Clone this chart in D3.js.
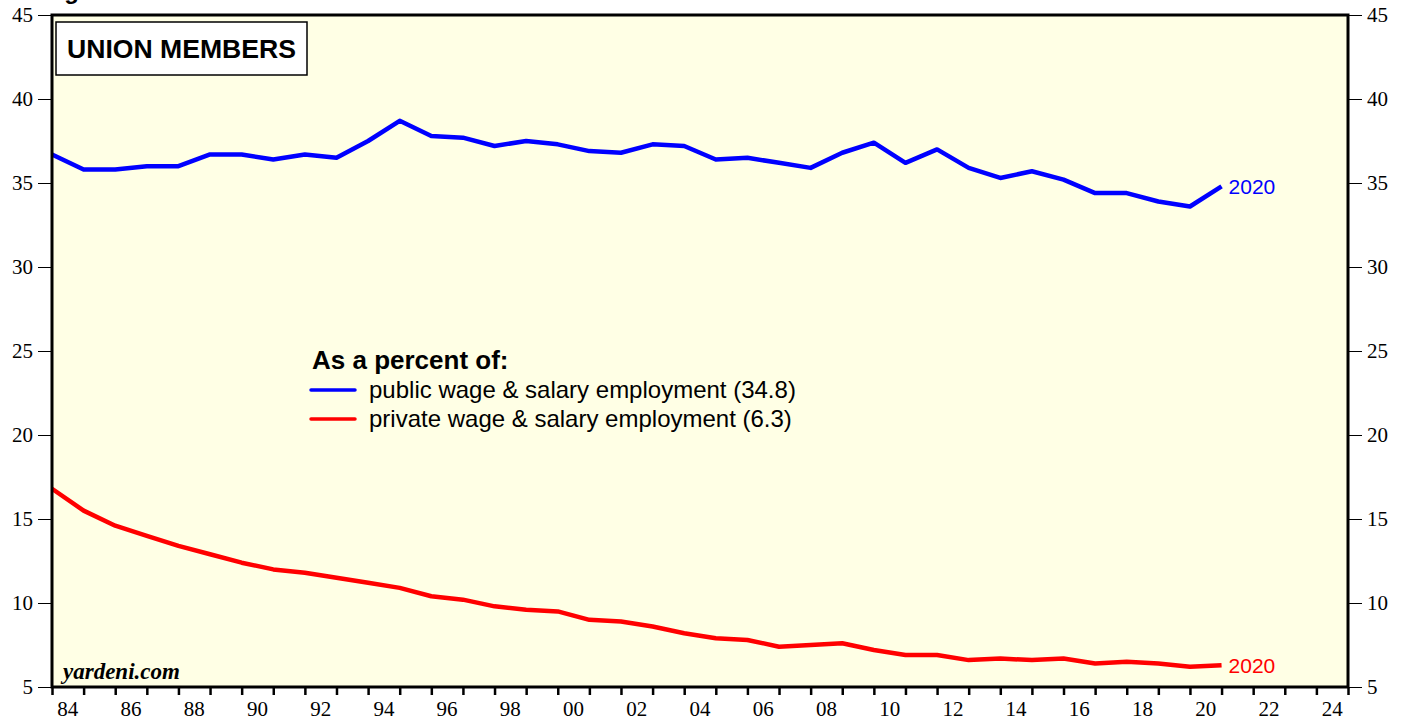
<!DOCTYPE html>
<html>
<head>
    <meta charset="utf-8">
    <title>Union Members</title>
    <script src="https://cdnjs.cloudflare.com/ajax/libs/d3/7.8.5/d3.min.js"></script>
    <style>
        body { margin: 0; background: #fff; }
        svg { display: block; }
        .axis text { font-family: "Liberation Serif", "Times New Roman", serif; font-size: 21px; fill: #000; }
    </style>
</head>
<body>
<script type="text/javascript">
    var width = 1408, height = 721;
    var plotLeft = 52, plotRight = 1348, plotTop = 15, plotBottom = 687;

    // annual data, 1983-2020 (percent)
    var years = d3.range(1983, 2021);
    var publicRate = [36.7, 35.8, 35.8, 36.0, 36.0, 36.7, 36.7, 36.4, 36.7, 36.5,
                      37.5, 38.7, 37.8, 37.7, 37.2, 37.5, 37.3, 36.9, 36.8, 37.3,
                      37.2, 36.4, 36.5, 36.2, 35.9, 36.8, 37.4, 36.2, 37.0, 35.9,
                      35.3, 35.7, 35.2, 34.4, 34.4, 33.9, 33.6, 34.8];
    var privateRate = [16.8, 15.5, 14.6, 14.0, 13.4, 12.9, 12.4, 12.0, 11.8, 11.5,
                       11.2, 10.9, 10.4, 10.2, 9.8, 9.6, 9.5, 9.0, 8.9, 8.6,
                       8.2, 7.9, 7.8, 7.4, 7.5, 7.6, 7.2, 6.9, 6.9, 6.6,
                       6.7, 6.6, 6.7, 6.4, 6.5, 6.4, 6.2, 6.3];
    var yTicks = [5, 10, 15, 20, 25, 30, 35, 40, 45];
    var yearTicks = d3.range(1984, 2026);
    var labelYears = d3.range(1984, 2025, 2);

    var svg = d3.select("body").append("svg")
        .attr("width", width)
        .attr("height", height);

    var x = d3.scaleLinear().domain([1984, 2025]).range([plotLeft, plotRight]);
    var y = d3.scaleLinear().domain([5, 45]).range([plotBottom, plotTop]);

    // cut-off title at the very top
    svg.append("text")
        .attr("x", 43).attr("y", -1)
        .style("font-family", "Liberation Sans, Arial, sans-serif")
        .style("font-weight", "bold").style("font-size", "24px")
        .text("Figure");

    svg.append("rect")
        .attr("x", plotLeft).attr("y", plotTop)
        .attr("width", plotRight - plotLeft).attr("height", plotBottom - plotTop)
        .attr("fill", "#ffffe5");

    // y axes on both sides
    var yLeft = d3.axisLeft(y).tickValues(yTicks).tickSize(14).tickPadding(5);
    var yRight = d3.axisRight(y).tickValues(yTicks).tickSize(14).tickPadding(5);

    svg.append("g").attr("class", "axis")
        .attr("transform", "translate(" + plotLeft + ",0)")
        .call(yLeft)
        .call(function (g) { g.select(".domain").remove(); });
    svg.append("g").attr("class", "axis")
        .attr("transform", "translate(" + plotRight + ",0)")
        .call(yRight)
        .call(function (g) { g.select(".domain").remove(); });

    // x axis: a tick per year, label centred in each even year
    var xAxis = d3.axisBottom(x).tickValues(yearTicks).tickSize(8).tickFormat("");
    svg.append("g").attr("class", "axis")
        .attr("transform", "translate(0," + plotBottom + ")")
        .call(xAxis)
        .call(function (g) {
            g.select(".domain").remove();
            g.selectAll(".tick line").attr("stroke-width", 2.5);
        });

    svg.append("g").attr("class", "axis")
        .selectAll("text")
        .data(labelYears)
        .enter().append("text")
        .attr("x", function (d) { return x(d + 0.5); })
        .attr("y", 716)
        .attr("text-anchor", "middle")
        .text(function (d) { return d3.format("02")(d % 100); });

    // series, each year's value plotted at year end
    var line = d3.line()
        .x(function (d) { return x(d[0] + 1); })
        .y(function (d) { return y(d[1]); });

    var series = [
        { values: publicRate, color: "#0000ff" },
        { values: privateRate, color: "#ff0000" }
    ];

    svg.selectAll("path.series")
        .data(series)
        .enter().append("path")
        .attr("class", "series")
        .attr("fill", "none")
        .attr("stroke", function (d) { return d.color; })
        .attr("stroke-width", 4.5)
        .attr("stroke-linejoin", "round")
        .attr("d", function (d) { return line(d3.zip(years, d.values)); });

    // end labels
    svg.selectAll("text.endlabel")
        .data(series)
        .enter().append("text")
        .attr("class", "endlabel")
        .attr("x", x(years[years.length - 1] + 1) + 7)
        .attr("y", function (d) { return y(d.values[d.values.length - 1]) + 8; })
        .attr("fill", function (d) { return d.color; })
        .style("font-family", "Liberation Sans, Arial, sans-serif")
        .style("font-size", "21px")
        .text(String(years[years.length - 1]));

    // frame
    svg.append("rect")
        .attr("x", plotLeft).attr("y", plotTop)
        .attr("width", plotRight - plotLeft).attr("height", plotBottom - plotTop)
        .attr("fill", "none")
        .attr("stroke", "#000")
        .attr("stroke-width", 3);

    // title box
    svg.append("rect")
        .attr("x", 56).attr("y", 22)
        .attr("width", 251).attr("height", 53)
        .attr("fill", "#fff")
        .attr("stroke", "#000")
        .attr("stroke-width", 1.5);
    svg.append("text")
        .attr("x", 67).attr("y", 58)
        .style("font-family", "Liberation Sans, Arial, sans-serif")
        .style("font-weight", "bold").style("font-size", "26.6px")
        .text("UNION MEMBERS");

    // legend
    var legend = svg.append("g").attr("transform", "translate(310,0)");
    legend.append("text")
        .attr("x", 2).attr("y", 369)
        .style("font-family", "Liberation Sans, Arial, sans-serif")
        .style("font-weight", "bold").style("font-size", "26px")
        .text("As a percent of:");

    var legendLabels = ["public wage & salary employment (34.8)",
                        "private wage & salary employment (6.3)"];
    var item = legend.selectAll("g.item")
        .data(series)
        .enter().append("g")
        .attr("class", "item")
        .attr("transform", function (d, i) { return "translate(0," + (390 + i * 29) + ")"; });
    item.append("line")
        .attr("x1", 1).attr("x2", 45)
        .attr("stroke", function (d) { return d.color; })
        .attr("stroke-width", 3.5)
        .attr("stroke-linecap", "round");
    item.append("text")
        .attr("x", 59).attr("y", 8)
        .style("font-family", "Liberation Sans, Arial, sans-serif")
        .style("font-size", "24px")
        .text(function (d, i) { return legendLabels[i]; });

    svg.append("text")
        .attr("x", 63).attr("y", 679)
        .style("font-family", "Liberation Serif, Times New Roman, serif")
        .style("font-weight", "bold").style("font-style", "italic")
        .style("font-size", "23px")
        .text("yardeni.com");
</script>
</body>
</html>
